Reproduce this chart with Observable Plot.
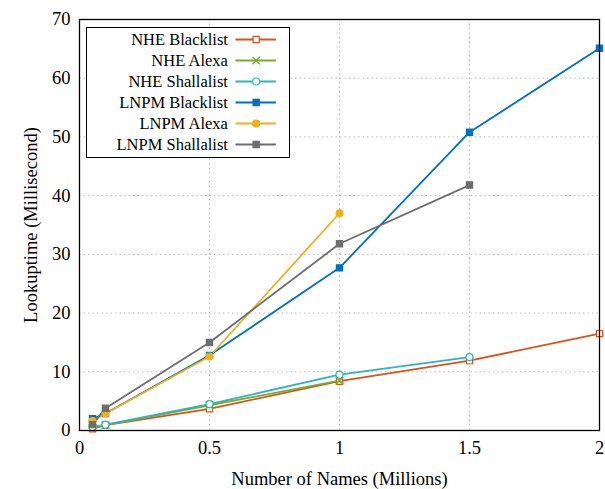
<!DOCTYPE html>
<html><head><meta charset="utf-8">
<script src="https://cdn.jsdelivr.net/npm/d3@7"></script>
<script src="https://cdn.jsdelivr.net/npm/@observablehq/plot@0.6"></script>
<style>
body{margin:0;background:#fff;}
#wrap{position:relative;width:605px;height:489px;font-family:'Liberation Serif','Times New Roman',serif;}
#legend{position:absolute;left:86px;top:27px;width:202px;height:129px;border:1px solid #000;background:#fff;}
</style></head>
<body><div id="wrap"><div id="legend"></div></div>
<script>
const seriesNames = ["NHE Blacklist","NHE Alexa","NHE Shallalist","LNPM Blacklist","LNPM Alexa","LNPM Shallalist"];
const seriesColors = ["#D95319","#77AC30","#2FB3C2","#0072BD","#EDB120","#6E6E6E"];
const seriesSymbols = ["square","times","circle","square","circle","square"];
const seriesHollow = [true,false,true,false,false,false];
const nheBlacklistX = [0.05,0.1,0.5,1,1.5,2];
const nheBlacklistY = [0.3,0.9,3.7,8.4,11.9,16.5];
const nheAlexaX = [0.05,0.1,0.5,1];
const nheAlexaY = [0.5,0.9,4.3,8.5];
const nheShallalistX = [0.05,0.1,0.5,1,1.5];
const nheShallalistY = [0.6,1.0,4.5,9.5,12.5];
const lnpmBlacklistX = [0.05,0.1,0.5,1,1.5,2];
const lnpmBlacklistY = [2.0,2.9,12.8,27.7,50.8,65.1];
const lnpmAlexaX = [0.05,0.1,0.5,1];
const lnpmAlexaY = [1.6,2.9,12.6,37.0];
const lnpmShallalistX = [0.05,0.1,0.5,1,1.5];
const lnpmShallalistY = [1.0,3.8,15.0,31.8,41.8];
const xTicks = [0,0.5,1,1.5,2];
const yTicks = [0,10,20,30,40,50,60,70];

const seriesXY = [
  [nheBlacklistX,nheBlacklistY],[nheAlexaX,nheAlexaY],[nheShallalistX,nheShallalistY],
  [lnpmBlacklistX,lnpmBlacklistY],[lnpmAlexaX,lnpmAlexaY],[lnpmShallalistX,lnpmShallalistY]
];
const data = [];
seriesXY.forEach(([xs,ys],i)=>xs.forEach((x,j)=>data.push({series:seriesNames[i],x,y:ys[j],i})));

const font = "'Liberation Serif','Times New Roman',serif";
const lineMarks = [];
const dotMarks = [];
seriesNames.forEach((name,i)=>{
  const d = data.filter(r=>r.i===i);
  lineMarks.push(Plot.line(d,{x:"x",y:"y",stroke:seriesColors[i],strokeWidth:1.8}));
  dotMarks.push(Plot.dot(d,{x:"x",y:"y",symbol:seriesSymbols[i],r:3.5,
    stroke:seriesColors[i],fill:seriesHollow[i]?"#fff":seriesColors[i],strokeWidth:seriesSymbols[i]==="times"?1.6:1.2}));
});

const chart = Plot.plot({
  width:605,height:489,marginLeft:79,marginRight:6,marginTop:19,marginBottom:59,
  style:{fontFamily:font,fontSize:"18px",color:"#000",background:"#fff"},
  x:{domain:[0,2]},
  y:{domain:[0,70]},
  marks:[
    Plot.gridX(xTicks,{stroke:"#bbb",strokeOpacity:1,strokeDasharray:"1.5,3"}),
    Plot.gridY(yTicks,{stroke:"#bbb",strokeOpacity:1,strokeDasharray:"1.5,3"}),
    Plot.axisX(xTicks,{tickSize:0,tickPadding:10,fontSize:18.5,fontFamily:font,fontVariant:"normal",tickFormat:d=>String(d),
      label:"Number of Names (Millions)",labelAnchor:"center",labelArrow:"none",labelOffset:54}),
    Plot.axisY(yTicks,{tickSize:0,tickPadding:9,fontSize:18.5,fontFamily:font,fontVariant:"normal",
      label:"Lookuptime (Millisecond)",labelAnchor:"center",labelArrow:"none",labelOffset:56}),
    ...lineMarks,
    ...dotMarks,
    Plot.frame({stroke:"#000",strokeWidth:1.3})
  ]
});
document.getElementById("wrap").prepend(chart);

const legendRows = seriesNames.map((name,i)=>({name,i}));
const legend = Plot.plot({
  width:202,height:129,margin:0,
  style:{fontFamily:font,fontSize:"16px",background:"transparent"},
  x:{domain:[0,1],axis:null},
  y:{type:"point",domain:seriesNames,range:[11,116],padding:0,axis:null},
  marks:[
    Plot.text(legendRows,{x:()=>0.695,y:"name",text:"name",textAnchor:"end",fill:"#000",fontSize:16.5,fontFamily:font}),
    Plot.ruleY(legendRows,{y:"name",x1:()=>0.735,x2:()=>0.935,stroke:d=>seriesColors[d.i],strokeWidth:1.8}),
    ...legendRows.map(d=>Plot.dot([d],{x:()=>0.835,y:"name",symbol:seriesSymbols[d.i],r:3.5,
      stroke:seriesColors[d.i],fill:seriesHollow[d.i]?"#fff":seriesColors[d.i],strokeWidth:1.2}))
  ]
});
document.getElementById("legend").appendChild(legend);
</script></body></html>
